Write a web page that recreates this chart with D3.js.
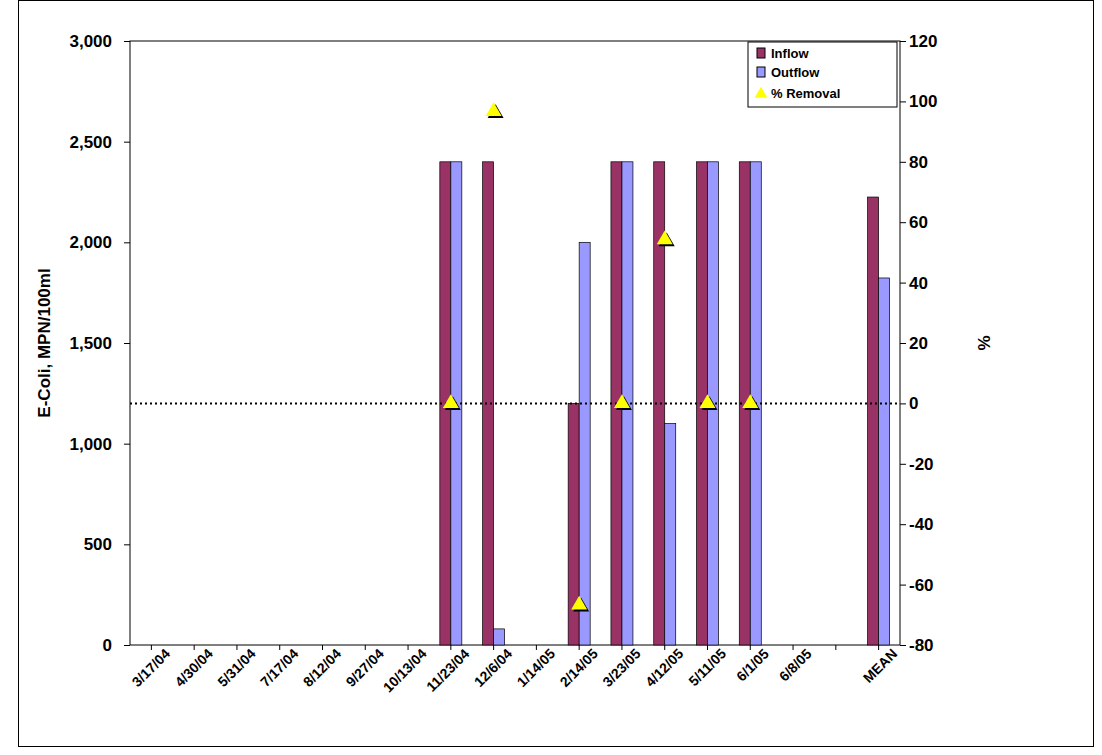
<!DOCTYPE html><html><head><meta charset="utf-8"><script src="https://d3js.org/d3.v7.min.js"></script>
<style>body{margin:0;background:#fff}text{font-family:Arial,"Liberation Sans",sans-serif;font-weight:bold}</style></head><body>
<svg id="c" width="1102" height="755"></svg>
<script>
const categories=["3/17/04","4/30/04","5/31/04","7/17/04","8/12/04","9/27/04","10/13/04","11/23/04","12/6/04","1/14/05","2/14/05","3/23/05","4/12/05","5/11/05","6/1/05","6/8/05","","MEAN"];
const inflow=[null,null,null,null,null,null,null,2400,2400,null,1200,2400,2400,2400,2400,null,null,2225];
const outflow=[null,null,null,null,null,null,null,2400,80,null,2000,2400,1100,2400,2400,null,null,1823];
const removal=[null,null,null,null,null,null,null,0,96.7,null,-66.7,0,54.2,0,0,null,null,null];
const leftTicks=[0,500,1000,1500,2000,2500,3000];
const rightTicks=[-80,-60,-40,-20,0,20,40,60,80,100,120];
const svg=d3.select("#c");
svg.append("rect").attr("x",18.5).attr("y",0.5).attr("width",1075).attr("height",746).attr("fill","none").attr("stroke","#000");
const L=130,R=900,T=41,B=645;
const x=d3.scaleBand().domain(categories.map((d,i)=>i)).range([L,R]);
const y=d3.scaleLinear().domain([0,3000]).range([B,T]);
const y2=d3.scaleLinear().domain([-80,120]).range([B,T]);
svg.append("rect").attr("x",L).attr("y",T).attr("width",R-L).attr("height",B-T).attr("fill","none").attr("stroke","#000");
const bw=11;
categories.forEach((c,i)=>{
 const cx=x(i)+x.bandwidth()/2;
 if(inflow[i]!=null)svg.append("rect").attr("x",cx-bw).attr("y",y(inflow[i])).attr("width",bw).attr("height",B-y(inflow[i])).attr("fill","#993366").attr("stroke","#000").attr("stroke-width",0.7);
 if(outflow[i]!=null)svg.append("rect").attr("x",cx).attr("y",y(outflow[i])).attr("width",bw).attr("height",B-y(outflow[i])).attr("fill","#9999ff").attr("stroke","#000").attr("stroke-width",0.7);
});
svg.append("line").attr("x1",L).attr("x2",R).attr("y1",y2(0)).attr("y2",y2(0)).attr("stroke","#000").attr("stroke-width",2).attr("stroke-dasharray","2,3");
const tri=d3.symbol().type(d3.symbolTriangle).size(110);
categories.forEach((c,i)=>{
 if(removal[i]==null)return;
 const cx=x(i)+x.bandwidth()/2;
 svg.append("path").attr("d",tri).attr("transform",`translate(${cx+2},${y2(removal[i])+2})`).attr("fill","#000");
 svg.append("path").attr("d",tri).attr("transform",`translate(${cx},${y2(removal[i])})`).attr("fill","#ffff00");
});
const ga=svg.append("g").attr("transform",`translate(${L},0)`).call(d3.axisLeft(y).tickValues(leftTicks).tickFormat(d3.format(",")).tickSize(6).tickPadding(12).tickSizeOuter(0));
const gb=svg.append("g").attr("transform",`translate(${R},0)`).call(d3.axisRight(y2).tickValues(rightTicks).tickFormat(d=>String(d)).tickSize(6).tickSizeOuter(0));
const gx=svg.append("g").attr("transform",`translate(0,${B})`).call(d3.axisBottom(x).tickFormat(i=>categories[i]).tickSize(5).tickSizeOuter(0));
[ga,gb,gx].forEach(g=>{g.select(".domain").remove();g.selectAll("text").attr("fill","#000");});
ga.selectAll("text").attr("font-size",17);gb.selectAll("text").attr("font-size",17);
gx.selectAll("text").attr("font-size",14).attr("text-anchor","end").attr("dx","0.5em").attr("dy","0.9em").attr("transform","rotate(-45)");
svg.append("text").attr("transform",`translate(50,${(T+B)/2}) rotate(-90)`).attr("text-anchor","middle").attr("font-size",17).text("E-Coli, MPN/100ml");
svg.append("text").attr("transform",`translate(990,${(T+B)/2}) rotate(-90)`).attr("text-anchor","middle").attr("font-size",17).text("%");
const lg=svg.append("g").attr("transform","translate(748,42)");
lg.append("rect").attr("width",149).attr("height",65).attr("fill","#fff").attr("stroke","#000");
const items=[["Inflow","#993366"],["Outflow","#9999ff"]];
items.forEach((d,k)=>{lg.append("rect").attr("x",9).attr("y",6+k*19).attr("width",8).attr("height",10).attr("fill",d[1]).attr("stroke","#000");
 lg.append("text").attr("x",23).attr("y",16+k*19).attr("font-size",13).text(d[0]);});
lg.append("path").attr("d",d3.symbol().type(d3.symbolTriangle).size(70)).attr("transform","translate(13,52)").attr("fill","#ffff00");
lg.append("text").attr("x",23).attr("y",56).attr("font-size",13).text("% Removal");
</script></body></html>
